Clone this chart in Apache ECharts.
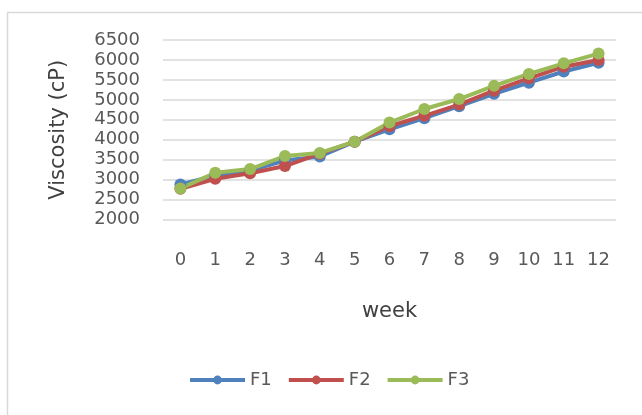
<!DOCTYPE html>
<html>
<head>
<meta charset="utf-8">
<script src="https://cdn.jsdelivr.net/npm/echarts@6/dist/echarts.min.js"></script>
<style>
  html, body { margin: 0; padding: 0; background: #fff; }
  #chart { width: 642px; height: 415px; }
</style>
</head>
<body>
<div id="chart"></div>
<script>
// week numbers
const weeks = ["0", "1", "2", "3", "4", "5", "6", "7", "8", "9", "10", "11", "12"]

// viscosity values (cP)
const f1 = [2880, 3100, 3230, 3480, 3580, 3950, 4260, 4540, 4840, 5150, 5430, 5710, 5930]
const f2 = [2770, 3020, 3160, 3340, 3650, 3950, 4340, 4600, 4880, 5230, 5540, 5830, 6000]
const f3 = [2780, 3170, 3265, 3590, 3670, 3950, 4430, 4770, 5020, 5350, 5650, 5915, 6160]

const seriesNames = ["F1", "F2", "F3"]
const colors = ["#4F81BD", "#C0504D", "#9BBB59"]

const textColor = "#595959"
const font = "DejaVu Sans"

const chart = echarts.init(document.getElementById("chart"))

const makeSeries = (name, data, color) => ({
  name: name,
  type: "line",
  data: data,
  symbol: "circle",
  symbolSize: 12,
  lineStyle: { width: 4, color: color },
  itemStyle: { color: color },
  emphasis: { disabled: true },
})

const option = {
  animation: false,
  backgroundColor: "#fff",
  textStyle: { fontFamily: font },
  graphic: [
    {
      type: "rect",
      shape: { x: 7.5, y: 12.5, width: 700, height: 500 },
      style: { fill: "none", stroke: "#d9d9d9", lineWidth: 1.5 },
      silent: true,
    },
  ],
  grid: {
    left: 163,
    right: 26,
    top: 40,
    bottom: 195.5,
  },
  legend: {
    left: 183,
    top: 366,
    itemWidth: 55,
    itemHeight: 11,
    itemGap: 15,
    lineStyle: { width: 4 },
    textStyle: { color: textColor, fontSize: 18, fontFamily: font },
    data: seriesNames,
  },
  xAxis: {
    type: "category",
    data: weeks,
    boundaryGap: true,
    name: "week",
    nameLocation: "middle",
    nameGap: 82,
    nameTextStyle: { color: "#404040", fontSize: 21, fontFamily: font },
    axisLine: { show: false },
    axisTick: { show: false },
    axisLabel: { color: textColor, fontSize: 18, margin: 32, fontFamily: font },
  },
  yAxis: {
    type: "value",
    min: 2000,
    max: 6500,
    interval: 500,
    name: "Viscosity (cP)",
    nameLocation: "middle",
    nameGap: 94,
    nameTextStyle: { color: "#404040", fontSize: 21, fontFamily: font },
    axisLine: { show: false },
    axisTick: { show: false },
    axisLabel: {
      color: textColor,
      fontSize: 18,
      margin: 23,
      fontFamily: font,
      formatter: (v) => String(v),
    },
    splitLine: { lineStyle: { color: "#d9d9d9", width: 1.5 } },
  },
  series: [
    makeSeries(seriesNames[0], f1, colors[0]),
    makeSeries(seriesNames[1], f2, colors[1]),
    makeSeries(seriesNames[2], f3, colors[2]),
  ],
}

chart.setOption(option)
</script>
</body>
</html>
